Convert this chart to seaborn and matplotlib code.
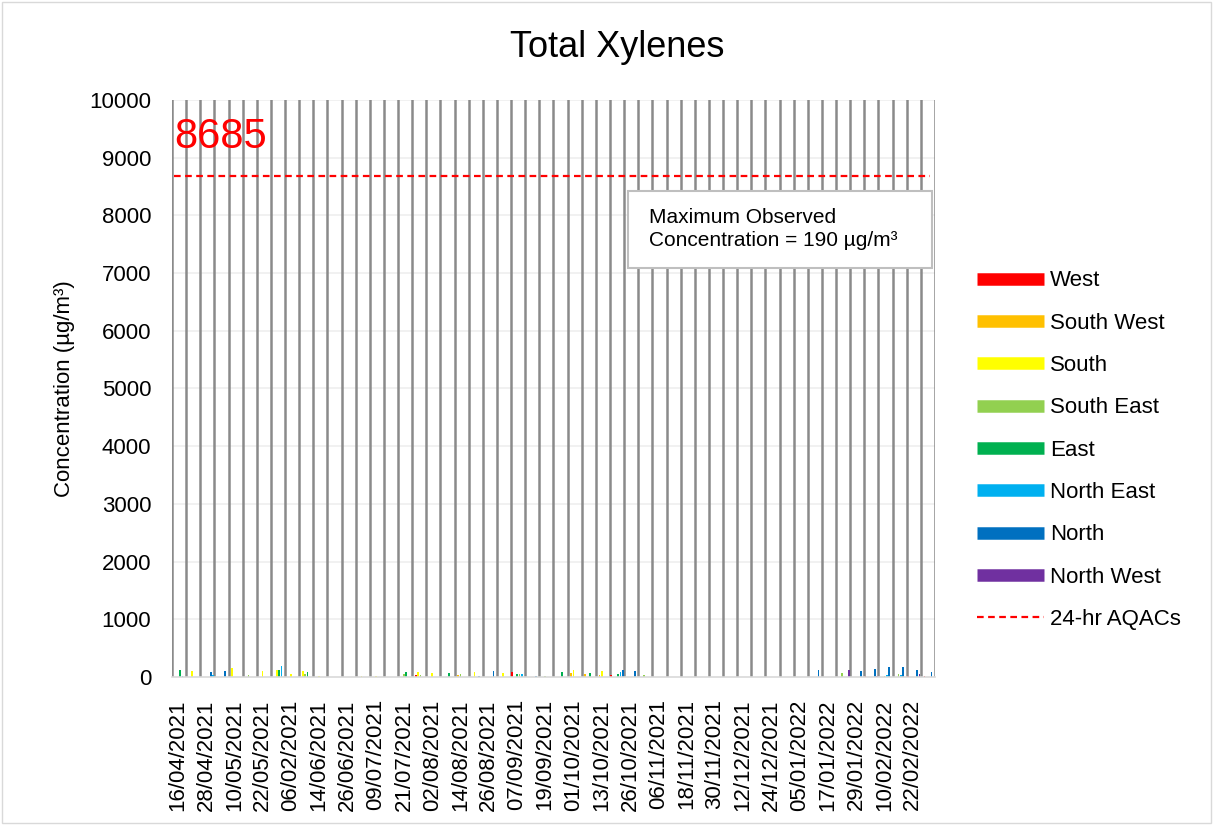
import pandas as pd
import numpy as np
import seaborn as sns
import matplotlib.pyplot as plt
from matplotlib.lines import Line2D
from matplotlib.patches import Rectangle

# wind sectors and their colours (Excel style)
directions = ['West', 'South West', 'South', 'South East', 'East', 'North East', 'North', 'North West']
dir_colors = ['#FF0000', '#FFC000', '#FFFF00', '#92D050', '#00B050', '#00B0F0', '#0070C0', '#7030A0']

# one category per sampling day, labels every 12th category
n_days = 324
date_labels = ['16/04/2021', '28/04/2021', '10/05/2021', '22/05/2021', '06/02/2021', '14/06/2021',
               '26/06/2021', '09/07/2021', '21/07/2021', '02/08/2021', '14/08/2021', '26/08/2021',
               '07/09/2021', '19/09/2021', '01/10/2021', '13/10/2021', '26/10/2021', '06/11/2021',
               '18/11/2021', '30/11/2021', '12/12/2021', '24/12/2021', '05/01/2022', '17/01/2022',
               '29/01/2022', '10/02/2022', '22/02/2022']

# daily readings: day index, wind sector, concentration (ug/m3)
day = [3, 4, 8, 16, 17, 22, 25, 32, 38, 44, 45, 46, 50, 55, 56, 57, 62, 80, 86,
       98, 99, 103, 104, 105, 110, 117, 121, 122, 128, 130, 136, 140, 144, 146, 147, 148,
       154, 158, 165, 169, 170, 175, 177, 181, 182, 186, 189, 190, 191, 196, 200,
       274, 284, 287, 292, 294, 298, 299, 302, 303, 304, 308, 309, 310, 312, 316, 317, 319, 322]
sector = ['East', 'North East', 'South', 'North', 'North East', 'North', 'South', 'South East', 'South',
          'South', 'East', 'North East', 'South', 'South', 'South East', 'East', 'South', 'South', 'South',
          'South East', 'East', 'West', 'South', 'South East', 'South', 'East', 'South West', 'South East',
          'South', 'North', 'North', 'South', 'West', 'East', 'South East', 'North East',
          'North', 'South East', 'East', 'South West', 'South', 'South West', 'East', 'South West', 'South',
          'West', 'East', 'North East', 'North', 'North', 'South East',
          'North', 'South East', 'North West', 'North', 'West', 'North', 'North West', 'South East',
          'North East', 'North', 'South East', 'North East', 'North', 'West', 'North', 'North West',
          'West', 'North']
conc = [120, 20, 105, 80, 30, 110, 150, 40, 100, 115, 115, 190, 60, 100, 60, 80, 20, 20, 20,
        60, 90, 40, 80, 40, 70, 70, 40, 55, 90, 25, 100, 70, 80, 60, 55, 60,
        15, 20, 90, 70, 115, 55, 75, 40, 110, 40, 55, 90, 120, 100, 35,
        120, 75, 115, 100, 15, 145, 15, 25, 40, 175, 50, 40, 165, 15, 120, 50, 20, 90]

aqac = 8685
max_obs = 190

df = pd.DataFrame({'day': day, 'direction': sector, 'value': conc})

plt.rcParams['font.family'] = ['Liberation Sans', 'DejaVu Sans']

fig = plt.figure(figsize=(12.13, 8.25), dpi=100)
ax = fig.add_axes([0.1418, 0.1794, 0.629, 0.6994])

# grid: light horizontal, dark vertical every 6 days
for yv in range(1000, 10001, 1000):
    ax.axhline(yv, color='#efefef', lw=1.2, zorder=0)
for xv in np.arange(-0.5, n_days, 6):
    ax.axvline(xv, color='#8a8a8a', lw=1.8, zorder=1)

sns.barplot(data=df, x='day', y='value', hue='direction', hue_order=directions,
            palette=dir_colors, saturation=1, native_scale=True, dodge=False, width=0.7,
            legend=False, ax=ax, zorder=2)

ax.plot([0.5, n_days - 2.5], [aqac, aqac], color='red', lw=1.6, ls=(0, (3, 2)), zorder=3)
ax.text(0.003, 0.935, str(aqac), transform=ax.transAxes, color='red', fontsize=30,
        ha='left', va='center')

ax.set_xlim(-0.5, n_days - 0.5)
ax.set_ylim(0, 10000)
ax.set_yticks(range(0, 10001, 1000))
ax.tick_params(axis='y', length=0, pad=15, labelsize=16)
ax.set_xticks(np.arange(2, n_days, 12)[:len(date_labels)])
ax.set_xticklabels(date_labels, rotation=90)
ax.tick_params(axis='x', length=0, pad=16, labelsize=16)
ax.set_xlabel('')
ax.set_ylabel('Concentration (µg/m³)', fontsize=16, labelpad=10)
for s in ['top', 'right', 'left']:
    ax.spines[s].set_visible(False)
ax.spines['bottom'].set_color('#d9d9d9')
ax.spines['bottom'].set_linewidth(1.2)

# max observed box
ax.add_patch(Rectangle((0.5976, 0.7088), 0.3984, 0.1335, transform=ax.transAxes,
                       facecolor='white', edgecolor='#bfbfbf', lw=1.5, zorder=4))
ax.text(0.625, 0.777, 'Maximum Observed\nConcentration = %d µg/m³' % max_obs,
        transform=ax.transAxes, fontsize=15, va='center', ha='left', zorder=5, linespacing=1.25)

fig.text(0.509, 0.943, 'Total Xylenes', fontsize=26, ha='center', va='center')

handles = [Line2D([0], [0], color=c, lw=9, solid_capstyle='butt') for c in dir_colors]
handles.append(Line2D([0], [0], color='red', lw=1.6, ls=(0, (3, 2))))
fig.legend(handles, directions + ['24-hr AQACs'], loc='upper left',
           bbox_to_anchor=(0.789, 0.6965), frameon=False, fontsize=16,
           handlelength=3.0, handletextpad=0.3, labelspacing=0.96)

fig.add_artist(Rectangle((0.002, 0.002), 0.996, 0.996, transform=fig.transFigure,
                         fill=False, edgecolor='#d9d9d9', lw=1))

fig.savefig('out.png', dpi=100)
